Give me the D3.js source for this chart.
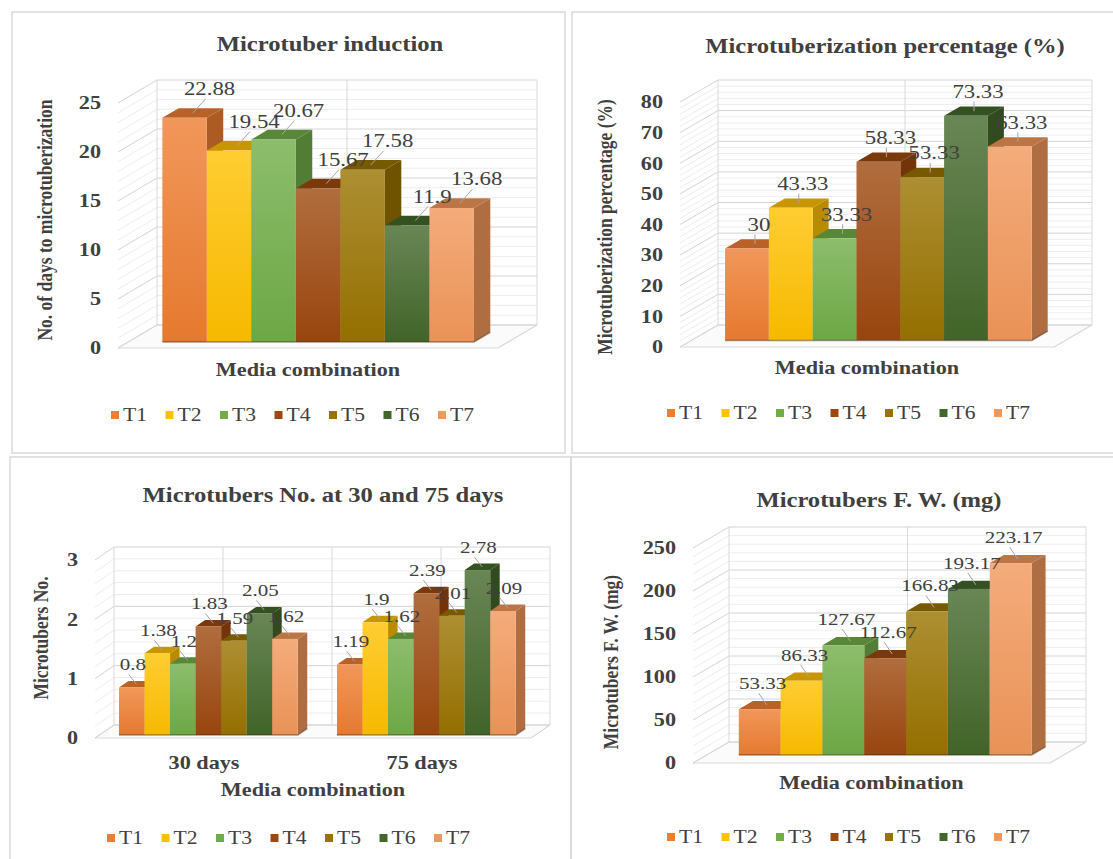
<!DOCTYPE html>
<html>
<head>
<meta charset="utf-8">
<script src="https://cdn.jsdelivr.net/npm/d3@7"></script>
<style>
  body { margin: 0; background: #fff; }
  text { font-family: "Liberation Serif", "Times New Roman", serif; fill: #404040; }
</style>
</head>
<body>
<script>
var width = 1113;
var height = 859;

// series names and data
var treatments = ["T1", "T2", "T3", "T4", "T5", "T6", "T7"];
var colors = ["#ED7D31", "#FFC000", "#70AD47", "#9E480E", "#997300", "#43682B", "#F1975A"];

var inductionDays = [22.88, 19.54, 20.67, 15.67, 17.58, 11.9, 13.68];
var tuberPercent = [30, 43.33, 33.33, 58.33, 53.33, 73.33, 63.33];
var tuberDays = ["30 days", "75 days"];
var tubers30 = [0.8, 1.38, 1.2, 1.83, 1.59, 2.05, 1.62];
var tubers75 = [1.19, 1.9, 1.62, 2.39, 2.01, 2.78, 2.09];
var freshWeight = [53.33, 86.33, 127.67, 112.67, 166.83, 193.17, 223.17];

var ticksInduction = [0, 5, 10, 15, 20, 25];
var ticksPercent = [0, 10, 20, 30, 40, 50, 60, 70, 80];
var ticksTubers = [0, 1, 2, 3];
var ticksWeight = [0, 50, 100, 150, 200, 250];

var stretch = 1.2;   // the picture is a bit wider than tall

var svg = d3.select("body").append("svg")
  .attr("width", width)
  .attr("height", height);

// panel frames
var frames = [[12, 12, 553, 441], [572, 12, 560, 441], [10, 457, 561, 420], [571, 457, 560, 420]];
svg.selectAll("rect.frame")
  .data(frames)
  .enter()
  .append("rect")
  .attr("class", "frame")
  .attr("x", function(d) { return d[0]; })
  .attr("y", function(d) { return d[1]; })
  .attr("width", function(d) { return d[2]; })
  .attr("height", function(d) { return d[3]; })
  .attr("fill", "none")
  .attr("stroke", "#d9d9d9")
  .attr("stroke-width", 1.5);

// gradients for bar fronts
var defs = svg.append("defs");
colors.forEach(function(c, i) {
  var gr = defs.append("linearGradient")
    .attr("id", "grad" + i)
    .attr("x1", 0).attr("y1", 0).attr("x2", 0).attr("y2", 1);
  gr.append("stop").attr("offset", "0%").attr("stop-color", d3.interpolateRgb(c, "#fff")(0.2));
  gr.append("stop").attr("offset", "100%").attr("stop-color", d3.color(c).darker(0.1));
});

function hText(g, x, y, txt, size, weight, anchor) {
  return g.append("text")
    .attr("transform", "translate(" + x + "," + y + ") scale(" + stretch + ",1)")
    .attr("text-anchor", anchor || "middle")
    .attr("dominant-baseline", "central")
    .attr("font-size", size + "px")
    .attr("font-weight", weight || "normal")
    .text(txt);
}

function chart3d(p) {
  var g = svg.append("g");

  var y = d3.scaleLinear().domain([0, p.max]).range([p.y0, p.yTop]);
  var fl = p.left - p.dx, fr = p.right - p.dx;
  var x = d3.scaleBand().domain(p.cats).range([fl, fr]).paddingInner(0.18).paddingOuter(0.09);
  var xs = d3.scaleBand().domain(treatments).range([0, x.bandwidth()]);

  function pt(px, v, z) { return [px + z * p.dx, y(v) + z * p.dy]; }
  function poly(pts) { return pts.map(function(q) { return q.join(","); }).join(" "); }

  // floor
  g.append("polygon")
    .attr("points", poly([pt(fl, 0, 0), pt(fr, 0, 0), pt(fr, 0, 1), pt(fl, 0, 1)]))
    .attr("fill", "#fbfbfb")
    .attr("stroke", "#d9d9d9");

  // minor and major gridlines on back and side walls
  var n = Math.round(p.max / p.minor);
  var levels = d3.range(0, n + 1).map(function(i) { return +(i * p.minor).toFixed(4); });
  levels.forEach(function(t) {
    var major = p.ticks.indexOf(t) >= 0;
    var col = major ? "#d4d4d4" : "#ededed";
    var a = pt(fl, t, 1), b = pt(fr, t, 1), c = pt(fl, t, 0);
    g.append("line").attr("x1", a[0]).attr("y1", a[1]).attr("x2", b[0]).attr("y2", b[1])
      .attr("stroke", col).attr("stroke-width", 1);
    g.append("line").attr("x1", c[0]).attr("y1", c[1]).attr("x2", a[0]).attr("y2", a[1])
      .attr("stroke", col).attr("stroke-width", 1);
  });

  // wall edges and vertical gridlines
  var verticals = [fl, fr];
  p.cats.forEach(function(c, i) {
    verticals.push(x(c) + x.bandwidth() / 2);
    if (i > 0) verticals.push(x(c) - x.step() * x.paddingInner() / 2);
  });
  verticals.forEach(function(vx) {
    var a = pt(vx, 0, 1), b = pt(vx, p.max, 1);
    g.append("line").attr("x1", a[0]).attr("y1", a[1]).attr("x2", b[0]).attr("y2", b[1])
      .attr("stroke", "#d9d9d9");
  });
  var fr0 = pt(fr, 0, 0), fr1 = pt(fr, 0, 1);
  g.append("line").attr("x1", fr0[0]).attr("y1", fr0[1]).attr("x2", fr1[0]).attr("y2", fr1[1])
    .attr("stroke", "#d9d9d9");

  // tick labels
  p.ticks.forEach(function(t) {
    hText(g, fl - 17, y(t), t, 18.5, "bold", "end");
  });

  // bars
  var bars = [];
  p.cats.forEach(function(c, ci) {
    p.values[ci].forEach(function(v, i) {
      bars.push({ x0: x(c) + xs(treatments[i]), w: xs.bandwidth(), v: v, i: i });
    });
  });

  bars.forEach(function(b) {
    var x1 = b.x0 + b.w;
    var base = d3.color(colors[b.i]);
    g.append("polygon")
      .attr("points", poly([pt(x1, 0, p.z0), pt(x1, b.v, p.z0), pt(x1, b.v, p.z1), pt(x1, 0, p.z1)]))
      .attr("fill", base.darker(0.9));
    g.append("polygon")
      .attr("points", poly([pt(b.x0, b.v, p.z0), pt(x1, b.v, p.z0), pt(x1, b.v, p.z1), pt(b.x0, b.v, p.z1)]))
      .attr("fill", base.darker(0.7));
    var tl = pt(b.x0, b.v, p.z0), br = pt(x1, 0, p.z0);
    g.append("rect")
      .attr("x", tl[0]).attr("y", tl[1])
      .attr("width", br[0] - tl[0]).attr("height", br[1] - tl[1])
      .attr("fill", "url(#grad" + b.i + ")");
  });

  // dark edge along the bar bases
  p.cats.forEach(function(c) {
    var a = pt(x(c), 0, p.z0), b = pt(x(c) + x.bandwidth(), 0, p.z0), e = pt(x(c) + x.bandwidth(), 0, p.z1);
    g.append("polyline").attr("points", poly([a, b, e]))
      .attr("fill", "none").attr("stroke", "rgba(60,40,20,0.45)").attr("stroke-width", 1.5);
  });

  // data labels with short leader lines
  bars.forEach(function(b) {
    var top = pt(b.x0 + b.w / 2, b.v, p.z0);
    var mid = pt(b.x0 + b.w / 2, b.v, (p.z0 + p.z1) / 2);
    var lx = top[0] + p.ldx, ly = top[1] + p.ldy;
    g.append("line")
      .attr("x1", lx - 4).attr("y1", ly + 10).attr("x2", mid[0]).attr("y2", mid[1])
      .attr("stroke", "#a6a6a6").attr("stroke-width", 1);
    hText(g, lx, ly, b.v, p.labelSize || 19, "normal", "middle");
  });

  // category labels (only when there are several)
  if (p.cats.length > 1) {
    p.cats.forEach(function(c) {
      hText(g, x(c) + x.bandwidth() / 2, p.catY, c, 18.5, "bold", "middle");
    });
  }

  // titles
  hText(g, p.titleX, p.titleY, p.title, 20.5, "bold", "middle");
  hText(g, (fl + fr) / 2, p.xTitleY, "Media combination", 18.5, "bold", "middle");
  g.append("text")
    .attr("transform", "translate(" + p.yTitleX + "," + p.yTitleY + ") rotate(-90) scale(1," + stretch + ")")
    .attr("text-anchor", "middle")
    .attr("dominant-baseline", "central")
    .attr("font-size", "17.5px")
    .attr("font-weight", "bold")
    .text(p.yTitle);

  // legend
  var lg = g.append("g").attr("transform", "translate(" + p.legendX + "," + p.legendY + ")");
  treatments.forEach(function(t, i) {
    lg.append("rect")
      .attr("x", i * 54.5).attr("y", -4)
      .attr("width", 8).attr("height", 8)
      .attr("fill", colors[i]);
    hText(lg, i * 54.5 + 12, 0, t, 18, "normal", "start");
  });
}

chart3d({
  cats: ["Media combination"], values: [inductionDays], ticks: ticksInduction,
  max: 25, minor: 1, left: 157, right: 537, y0: 348, yTop: 103, dx: 39, dy: -23,
  z0: 0.26, z1: 0.68, ldx: 25, ldy: -29,
  title: "Microtuber induction", titleX: 330, titleY: 44, xTitleY: 370,
  yTitle: "No. of days to microtuberization", yTitleX: 45, yTitleY: 220,
  legendX: 111, legendY: 415
});

chart3d({
  cats: ["Media combination"], values: [tuberPercent], ticks: ticksPercent,
  max: 80, minor: 2, left: 718, right: 1092, y0: 347, yTop: 102, dx: 38, dy: -22,
  z0: 0.3, z1: 0.72, ldx: 12, ldy: -24,
  title: "Microtuberization percentage (%)", titleX: 885, titleY: 46, xTitleY: 368,
  yTitle: "Microtuberization percentage (%)", yTitleX: 605, yTitleY: 227,
  legendX: 667, legendY: 413
});

chart3d({
  cats: tuberDays, values: [tubers30, tubers75], ticks: ticksTubers,
  max: 3, minor: 0.2, left: 114, right: 550, y0: 738, yTop: 560, dx: 19, dy: -13,
  z0: 0.23, z1: 0.73, ldx: 1, ldy: -23, catY: 763, labelSize: 17.5,
  title: "Microtubers No. at 30 and 75 days", titleX: 323, titleY: 495, xTitleY: 790,
  yTitle: "Microtubers No.", yTitleX: 41, yTitleY: 638,
  legendX: 107, legendY: 838
});

chart3d({
  cats: ["Media combination"], values: [freshWeight], ticks: ticksWeight,
  max: 250, minor: 10, left: 729, right: 1086, y0: 763, yTop: 548, dx: 36, dy: -21,
  z0: 0.38, z1: 0.77, ldx: 3, ldy: -26, labelSize: 17.5,
  title: "Microtubers F. W. (mg)", titleX: 879, titleY: 500, xTitleY: 783,
  yTitle: "Microtubers F. W. (mg)", yTitleX: 611, yTitleY: 662,
  legendX: 667, legendY: 837
});
</script>
</body>
</html>
